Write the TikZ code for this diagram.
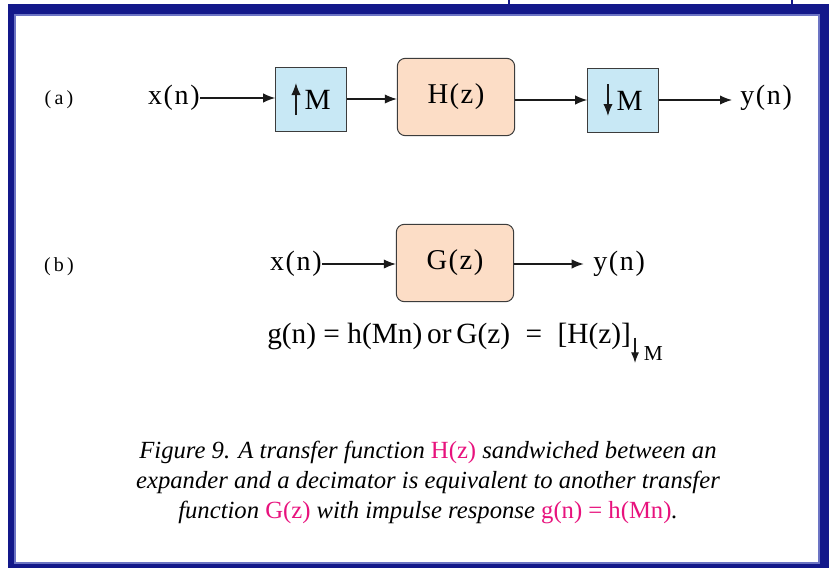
\documentclass[tikz,border=0pt]{standalone}
\usepackage{fontspec}
\setmainfont{Liberation Serif}
\usepackage{tikz}
\usepackage{xcolor}
\usetikzlibrary{arrows.meta,positioning}
\definecolor{navy}{HTML}{13188A}
\definecolor{navyedge}{HTML}{6C74C4}
\definecolor{ink}{HTML}{1A1A1A}
\definecolor{boxedge}{HTML}{3C3C3C}
\definecolor{blubg}{HTML}{C8E8F5}
\definecolor{peachbg}{HTML}{FCDDC6}
\definecolor{accentpink}{HTML}{E8127D}
\newcommand{\uparr}{\tikz[baseline=0pt]\draw[-{Latex[length=9pt,width=7pt]},line width=1pt,draw=ink] (0,-4pt) -- (0,20pt);}
\newcommand{\dnarr}{\tikz[baseline=0pt]\draw[-{Latex[length=9pt,width=7pt]},line width=1pt,draw=ink] (0,20pt) -- (0,-4pt);}
\newcommand{\subarr}{\tikz[baseline=0pt]\draw[-{Latex[length=8pt,width=6pt]},line width=0.9pt,draw=ink] (0,17pt) -- (0,-2pt);}
\newcommand{\pk}[1]{{\upshape\color{accentpink}#1}}
\tikzset{
  rate/.style={draw=boxedge,fill=blubg,line width=0.75pt,minimum width=53pt,
               minimum height=48pt,inner sep=0pt,font=\fontsize{22}{24}\selectfont},
  filt/.style={draw=boxedge,fill=peachbg,line width=0.75pt,rounded corners=6pt,
               minimum width=88pt,minimum height=58pt,inner sep=0pt,
               font=\fontsize{21.5}{24}\selectfont\addfontfeature{LetterSpace=5}},
  sig/.style={inner sep=0pt,font=\fontsize{21}{24}\selectfont\addfontfeature{LetterSpace=6}},
  tag/.style={inner sep=0pt,font=\fontsize{15}{17}\selectfont\addfontfeature{LetterSpace=16}},
  sigarr/.style={-{Latex[length=9pt,width=7pt]},line width=0.9pt,draw=ink}
}
\begin{document}
\begin{tikzpicture}[x=0.75pt,y=-0.75pt]
    \path[use as bounding box] (0,0) rectangle (829,568);

    % frame
    \fill[navy] (8,4) rectangle (835,575);
    \draw[navyedge,line width=1.2pt,fill=white] (15,15) rectangle (819,563);
    \draw[navy,line width=0.8pt] (509,0) -- (509,4);
    \draw[navy,line width=0.8pt] (792,0) -- (792,4);

    % (a)
    \node[tag] (taga) at (59,100) {(a)};
    \node[sig,anchor=east] (xa) at (200,98) {x(n)};
    \node[rate] (up) at (311,99) {\uparr\kern3pt M};
    \node[filt] (h) at (456,97) {H(z)};
    \node[rate] (down) at (623,100) {\dnarr\kern3pt M};
    \node[sig,anchor=west] (ya) at (740,98) {y(n)};
    \draw[sigarr] (xa.east) -- (up.west |- xa.east);
    \draw[sigarr] (up.east) -- (h.west |- up.east);
    \draw[sigarr] (h.east |- down.west) -- (down.west);
    \draw[sigarr] (down.east) -- ([xshift=-6pt]ya.west |- down.east);

    % (b)
    \node[tag] (tagb) at (59,267) {(b)};
    \node[sig,anchor=east] (xb) at (322,264) {x(n)};
    \node[filt] (g) at (455,263) {G(z)};
    \node[sig,anchor=west] (yb) at (593,264) {y(n)};
    \draw[sigarr] (xb.east) -- (g.west |- xb.east);
    \draw[sigarr] (g.east |- yb.west) -- ([xshift=-7pt]yb.west);

    \node[inner sep=0pt,font=\fontsize{22}{24}\selectfont,anchor=base west] (eq) at (267,343)
      {g(n) = h(Mn)\,or\,G(z)\; = \;[H(z)]\raisebox{-13pt}{\subarr\,{\fontsize{16}{18}\selectfont M}}};

    % caption
    \node[align=center,inner sep=0pt,font=\fontsize{18.5}{22.5}\selectfont\itshape] (cap) at (428,482)
      {Figure 9. A transfer function \pk{H(z)} sandwiched between an\\
       expander and a decimator is equivalent to another transfer\\
       function \pk{G(z)} with impulse response \pk{g(n) = h(Mn)}.};
  \end{tikzpicture}
\end{document}
